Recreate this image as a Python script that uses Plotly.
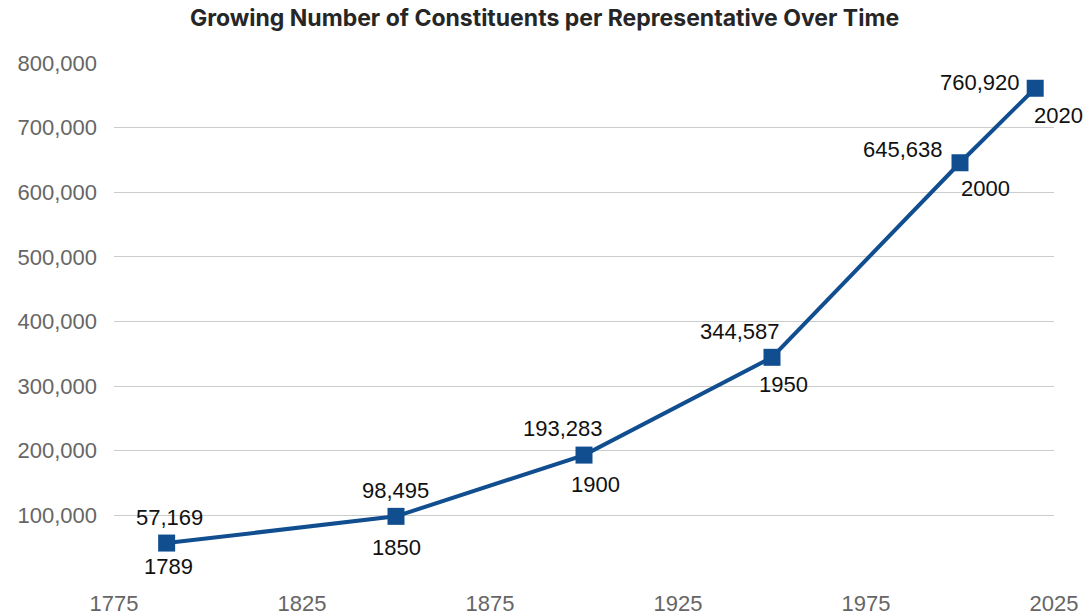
import plotly.graph_objects as go

years = [1789, 1850, 1900, 1950, 2000, 2020]
constituents = [57169, 98495, 193283, 344587, 645638, 760920]
value_labels = ["57,169", "98,495", "193,283", "344,587", "645,638", "760,920"]
year_labels = ["1789", "1850", "1900", "1950", "2000", "2020"]
y_ticks = [0, 100000, 200000, 300000, 400000, 500000, 600000, 700000, 800000]
y_tick_text = ["", "100,000", "200,000", "300,000", "400,000", "500,000", "600,000", "700,000", "800,000"]
x_ticks = [1775, 1825, 1875, 1925, 1975, 2025]

# label offsets (pixels)
val_dx = [3, -1, -21, -32, -57, -55]
val_dy = [26, 26, 27, 26, 13, 6]
yr_dx = [2, 0, 11, 11, 25, 23]
yr_dy = [-23, -31, -29, -27, -26, -27]

line_color = "#104e8f"
label_font = dict(family="Liberation Sans, Arial", size=22, color="#111111")
tick_font = dict(family="Liberation Sans, Arial", size=22, color="#666666")

fig = go.Figure()
fig.add_trace(go.Scatter(
    x=years, y=constituents, mode="lines+markers",
    line=dict(color=line_color, width=4),
    marker=dict(symbol="square", size=17, color=line_color),
    hoverinfo="x+y", showlegend=False,
))

anns = []
for i, (x, y) in enumerate(zip(years, constituents)):
    anns.append(dict(x=x, y=y, xref="x", yref="y", text=value_labels[i], showarrow=False,
                     xshift=val_dx[i], yshift=val_dy[i], font=label_font))
    anns.append(dict(x=x, y=y, xref="x", yref="y", text=year_labels[i], showarrow=False,
                     xshift=yr_dx[i], yshift=yr_dy[i], font=label_font))

fig.update_layout(
    width=1089, height=616,
    margin=dict(l=114, r=35, t=63, b=36, autoexpand=False),
    paper_bgcolor="white", plot_bgcolor="white",
    title=dict(text="<b>Growing Number of Constituents per Representative Over Time</b>",
               x=0.5, xanchor="center", y=1 - 18 / 616, yanchor="middle", yref="container",
               font=dict(family="Inter", size=23, color="#262626")),
    xaxis=dict(range=[1775, 2025], tickvals=x_ticks, showgrid=False, zeroline=False,
               tickfont=tick_font, ticks="", showline=False, automargin=False,
               ticklabelstandoff=8),
    yaxis=dict(range=[0, 800000], tickvals=y_ticks, ticktext=y_tick_text,
               showgrid=True, gridcolor="#cccccc", gridwidth=1, zeroline=False,
               tickfont=tick_font, ticks="", ticklabelstandoff=16, showline=False,
               automargin=False),
    annotations=anns,
)
fig.write_html("out.html")
